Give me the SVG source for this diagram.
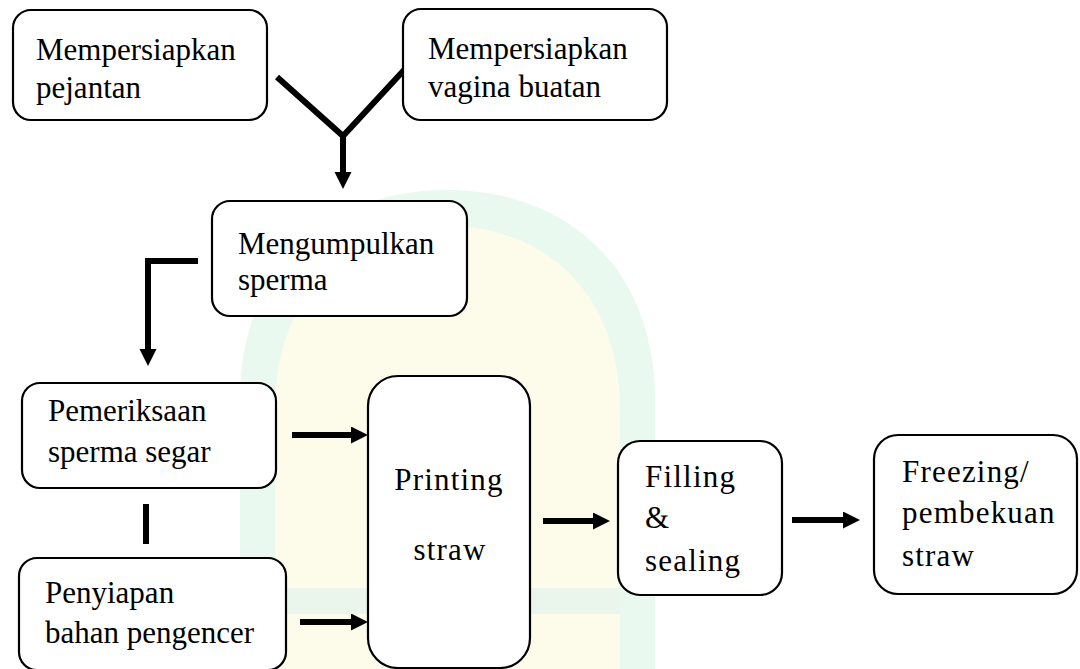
<svg xmlns="http://www.w3.org/2000/svg" width="1080" height="669" viewBox="0 0 1080 669">
  <style>
    .box { fill: #ffffff; stroke: #000000; stroke-width: 2.2; }
    .t { font-family: 'Liberation Serif', 'Times New Roman', Tinos, 'Noto Serif', 'DejaVu Serif', serif; font-size: 31px; fill: #000000; }
    .ts { letter-spacing: 1.2px; }
    .con { fill: none; stroke: #000000; stroke-width: 6; stroke-linejoin: miter; }
  </style>
  <defs>
    <marker id="ah" markerUnits="userSpaceOnUse" markerWidth="18" markerHeight="18" refX="0" refY="8.5" orient="auto">
      <path d="M0,0 L17,8.5 L0,17 Z" fill="#000000"/>
    </marker>
  </defs>
  <rect width="1080" height="669" fill="#ffffff"/>
  <g id="watermark">
    <path d="M240 669 L240 400 C240 265 330 190 447 190 C564 190 655 265 655 400 L655 669 Z" fill="#e9f9ef"/>
    <path d="M275 669 L275 410 C275 292 350 226 447 226 C544 226 620 292 620 410 L620 669 Z" fill="#fdfbe9"/>
    <rect x="275" y="588" width="345" height="26" fill="#eaf6ec"/>
  </g>
  <g id="connectors">
    <polyline class="con" points="277,77 343,136 405,69"/>
    <line class="con" x1="343" y1="136" x2="343" y2="172" marker-end="url(#ah)"/>
    <polyline class="con" points="198,261 148,261 148,349" marker-end="url(#ah)"/>
    <line class="con" x1="146" y1="504" x2="146" y2="544"/>
    <line class="con" x1="292" y1="435" x2="351" y2="435" marker-end="url(#ah)"/>
    <line class="con" x1="300" y1="622" x2="351" y2="622" marker-end="url(#ah)"/>
    <line class="con" x1="543" y1="521" x2="593" y2="521" marker-end="url(#ah)"/>
    <line class="con" x1="792" y1="520" x2="843" y2="520" marker-end="url(#ah)"/>
  </g>
  <g id="n1">
    <rect class="box" x="13" y="10" width="254" height="110" rx="18"/>
    <text class="t" x="36" y="60">Mempersiapkan</text>
    <text class="t" x="36" y="98">pejantan</text>
  </g>
  <g id="n2">
    <rect class="box" x="403" y="9" width="264" height="111" rx="18"/>
    <text class="t" x="428" y="59">Mempersiapkan</text>
    <text class="t" x="428" y="97">vagina buatan</text>
  </g>
  <g id="n3">
    <rect class="box" x="212" y="201" width="255" height="115" rx="18"/>
    <text class="t" x="238" y="254">Mengumpulkan</text>
    <text class="t" x="238" y="290">sperma</text>
  </g>
  <g id="n4">
    <rect class="box" x="22" y="383" width="254" height="105" rx="18"/>
    <text class="t" x="48" y="421">Pemeriksaan</text>
    <text class="t" x="48" y="462">sperma segar</text>
  </g>
  <g id="n5">
    <rect class="box" x="19" y="558" width="267" height="112" rx="18"/>
    <text class="t" x="45" y="603">Penyiapan</text>
    <text class="t" x="45" y="643">bahan pengencer</text>
  </g>
  <g id="n6">
    <rect class="box" x="368" y="376" width="162" height="292" rx="30"/>
    <text class="t ts" x="449" y="490" text-anchor="middle">Printing</text>
    <text class="t ts" x="450" y="560" text-anchor="middle">straw</text>
  </g>
  <g id="n7">
    <rect class="box" x="618" y="441" width="164" height="154" rx="22"/>
    <text class="t ts" x="645" y="487">Filling</text>
    <text class="t" x="645" y="528">&amp;</text>
    <text class="t ts" x="645" y="571">sealing</text>
  </g>
  <g id="n8">
    <rect class="box" x="874" y="435" width="203" height="159" rx="24"/>
    <text class="t ts" x="902" y="482">Freezing/</text>
    <text class="t ts" x="902" y="523">pembekuan</text>
    <text class="t ts" x="902" y="566">straw</text>
  </g>
</svg>
